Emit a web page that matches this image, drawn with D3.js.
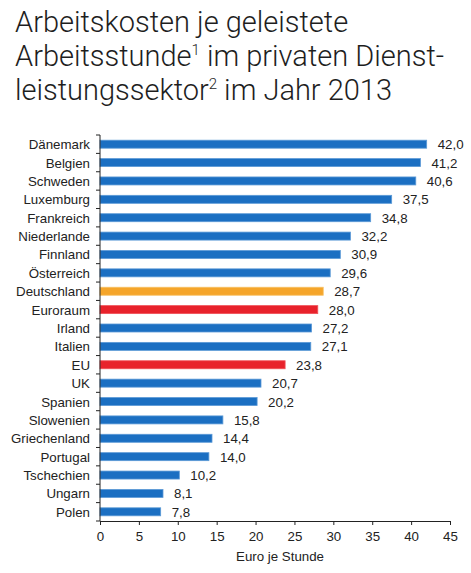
<!DOCTYPE html>
<html lang="de">
<head>
<meta charset="utf-8">
<title>Arbeitskosten</title>
<script src="https://d3js.org/d3.v7.min.js"></script>
<style>
  body { margin: 0; background: #fff; }
  text { font-family: "Liberation Sans", Arial, sans-serif; fill: #222; }
</style>
</head>
<body>
<script>
// data
var countries = ["Dänemark", "Belgien", "Schweden", "Luxemburg", "Frankreich", "Niederlande",
  "Finnland", "Österreich", "Deutschland", "Euroraum", "Irland", "Italien", "EU", "UK",
  "Spanien", "Slowenien", "Griechenland", "Portugal", "Tschechien", "Ungarn", "Polen"];
var values = [42.0, 41.2, 40.6, 37.5, 34.8, 32.2, 30.9, 29.6, 28.7, 28.0, 27.2, 27.1, 23.8,
  20.7, 20.2, 15.8, 14.4, 14.0, 10.2, 8.1, 7.8];
var highlightDE = ["Deutschland"];
var highlightAgg = ["Euroraum", "EU"];
var xTicks = [0, 5, 10, 15, 20, 25, 30, 35, 40, 45];

var w = 471, h = 573;
var mLeft = 100, mRight = 450, mTop = 135, mBottom = 521;
var fs = 13.3;

var svg = d3.select("body").append("svg")
    .attr("width", w)
    .attr("height", h);

// title
var title = svg.append("text")
    .attr("x", 15)
    .attr("font-size", 29)
    .style("font-family", "Roboto, 'Liberation Sans', sans-serif")
    .style("font-weight", 300)
    .style("fill", "#1e1e1e");
title.append("tspan").attr("x", 15).attr("y", 32).text("Arbeitskosten je geleistete");
title.append("tspan").attr("x", 15).attr("y", 66).text("Arbeitsstunde");
title.append("tspan").attr("font-size", 15).attr("dy", -11).text("1");
title.append("tspan").attr("dy", 11).text(" im privaten Dienst-");
title.append("tspan").attr("x", 15).attr("y", 100).text("leistungssektor");
title.append("tspan").attr("font-size", 15).attr("dy", -11).text("2");
title.append("tspan").attr("dy", 11).text(" im Jahr 2013");

var x = d3.scaleLinear().domain([0, 45]).range([mLeft, mRight]);
var y = d3.scaleBand().domain(countries).range([mTop, mBottom]);

function color(c) {
  if (highlightDE.includes(c)) return "#f5a52a";
  if (highlightAgg.includes(c)) return "#e8222b";
  return "#1b6fc2";
}
function stroke(c) {
  if (highlightDE.includes(c)) return "#f8c063";
  if (highlightAgg.includes(c)) return "#f05058";
  return "#5c9ad6";
}

var barH = 8;
svg.selectAll("rect.bar")
  .data(countries)
  .enter().append("rect")
    .attr("class", "bar")
    .attr("x", x(0))
    .attr("y", c => y(c) + y.bandwidth() / 2 - barH / 2)
    .attr("width", (c, i) => x(values[i]) - x(0))
    .attr("height", barH)
    .attr("fill", color)
    .attr("stroke", stroke)
    .attr("stroke-width", 0.8);

// value labels
svg.selectAll("text.val")
  .data(countries)
  .enter().append("text")
    .attr("class", "val")
    .attr("x", (c, i) => x(values[i]) + 11)
    .attr("y", c => y(c) + y.bandwidth() / 2 + 5)
    .attr("font-size", fs)
    .text((c, i) => values[i].toFixed(1).replace(".", ","));

// category labels
svg.selectAll("text.cat")
  .data(countries)
  .enter().append("text")
    .attr("class", "cat")
    .attr("x", 90)
    .attr("y", c => y(c) + y.bandwidth() / 2 + 5)
    .attr("text-anchor", "end")
    .attr("font-size", fs)
    .text(c => c);

// y axis line + ticks at band boundaries
svg.append("line")
    .attr("x1", x(0)).attr("x2", x(0))
    .attr("y1", mTop).attr("y2", mBottom)
    .attr("stroke", "#222");
svg.selectAll("line.yt")
  .data(d3.range(countries.length + 1))
  .enter().append("line")
    .attr("class", "yt")
    .attr("x1", x(0) - 4).attr("x2", x(0))
    .attr("y1", i => mTop + i * y.step())
    .attr("y2", i => mTop + i * y.step())
    .attr("stroke", "#222");

// x axis
var xAxis = svg.append("g")
    .attr("transform", "translate(0," + mBottom + ")")
    .call(d3.axisBottom(x).tickValues(xTicks).tickSize(4).tickSizeOuter(0));
xAxis.select(".domain").attr("stroke", "#222");
xAxis.selectAll(".tick line").attr("stroke", "#222");
xAxis.selectAll(".tick text")
    .attr("font-size", fs)
    .attr("dy", "0.95em")
    .style("font-family", "Liberation Sans, Arial, sans-serif")
    .attr("fill", "#222");

svg.append("text")
    .attr("x", x(22.5) + 5)
    .attr("y", 561)
    .attr("text-anchor", "middle")
    .attr("font-size", fs)
    .text("Euro je Stunde");
</script>
</body>
</html>
